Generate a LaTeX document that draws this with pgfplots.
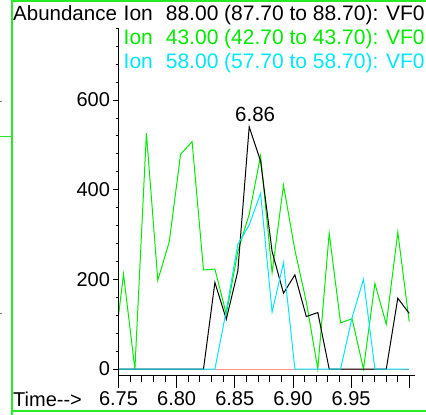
\documentclass[border=0pt]{standalone}
\usepackage{fontspec}
\setmainfont{Liberation Sans}
\usepackage{pgfplots}
\usepackage{pgfplotstable}
\pgfplotsset{compat=1.18}

\definecolor{iongreen}{RGB}{0,235,0}
\definecolor{ioncyan}{RGB}{0,230,255}
\definecolor{ionred}{RGB}{255,85,85}
\definecolor{framegreen}{RGB}{40,235,40}

% ion chromatograms, time in min
\pgfplotstableread{
t      a88  a43  a58  zero
6.7445   0    0    0   0
6.7543   0  212    0   0
6.7641   0    0    0   0
6.7740   0  526    0   0
6.7838   0  198    0   0
6.7936   0  283    0   0
6.8034   0  479    0   0
6.8133   0  507    0   0
6.8231   0  221    0   0
6.8329 193  223    0   0
6.8427 111  122  130   0
6.8526 218  262  278   0
6.8624 540  345  321   0
6.8722 464  475  392   0
6.8821 262  215  127   0
6.8919 169  410  237   0
6.9017 210  265    0   0
6.9115 117  150    0   0
6.9214 126    0    0   0
6.9312   0  303    0   0
6.9410   0  103    0   0
6.9509   0  112  115   0
6.9607   0    0  200   0
6.9705   0  191    0   0
6.9803   0  100    0   0
6.9902 158  305    0   0
7.0000 124  106    0   0
}\iontable

\newcommand{\hdrfont}{\fontsize{20.5}{24}\selectfont}
\newcommand{\ionfont}{\fontsize{21}{24}\selectfont}
\pgfplotsset{
  ionaxis/.style={
    scale only axis, width=296.5pt, height=348pt,
    at={(118.5pt,39pt)}, anchor=south west,
    xmin=6.75, xmax=7.005, ymin=-15.6, ymax=760.6,
    tick align=outside,
    ticklabel style={font=\fontsize{20}{24}\selectfont},
    /pgf/number format/assume math mode=true,
    axis line style={line width=1pt},
    tick style={line width=0.8pt, black},
  }
}

\begin{document}
\begin{tikzpicture}[x=1pt,y=1pt]
\useasboundingbox (0,0) rectangle (426,415);
\begin{scope}
\clip (0,0) rectangle (426,415);

% data and time axis
\begin{axis}[ionaxis,
    axis x line*=bottom, axis y line=none,
    xtick={6.75,6.8,6.85,6.9,6.95,7.0},
    xticklabels={6.75,6.80,6.85,6.90,6.95,{}},
    minor x tick num=4,
    major tick length=12pt, minor tick length=6pt,
    ytick=\empty]
  \addplot[ionred, line width=1pt] table[x=t, y=zero] \iontable;
  \addplot[iongreen, line width=1pt] table[x=t, y=a43] \iontable;
  \addplot[black, line width=1pt] table[x=t, y=a88] \iontable;
  \addplot[ioncyan, line width=1pt] table[x=t, y=a58] \iontable;
  \node[anchor=base, inner sep=0pt, font=\fontsize{20.5}{24}\selectfont]
    at (axis cs:6.8675,552) {6.86};
\end{axis}

% abundance axis
\begin{axis}[ionaxis,
    axis y line*=left, axis x line=none,
    xtick=\empty,
    ytick={0,200,400,600,800},
    minor y tick num=4,
    major tick length=5pt, minor tick length=2.5pt]
\end{axis}

\node[anchor=base west, inner sep=0pt, font=\hdrfont] at (13,394) {Abundance};
\node[anchor=base west, inner sep=0pt, font=\ionfont] at (123.5,394)
  {Ion\hspace{13pt}88.00 (87.70 to 88.70): VF0};
\node[anchor=base west, inner sep=0pt, font=\ionfont, text=iongreen] at (123.5,370)
  {Ion\hspace{13pt}43.00 (42.70 to 43.70): VF0};
\node[anchor=base west, inner sep=0pt, font=\ionfont, text=ioncyan] at (123.5,346)
  {Ion\hspace{13pt}58.00 (57.70 to 58.70): VF0};
\node[anchor=base west, inner sep=0pt, font=\fontsize{20}{24}\selectfont]
  at (13,8.5) {Time-{}->};

% frame
\draw[framegreen, line width=2pt] (426,413.5) -- (11.7,413.5);
\draw[framegreen, line width=2pt] (11.7,415) -- (11.7,0);
\draw[framegreen, line width=2pt] (11.7,3.5) -- (426,3.5);
\draw[framegreen, line width=1.5pt] (0,278.3) -- (11,278.3);
\draw[gray, line width=0.8pt] (0,313.3) -- (1.5,313.3);
\draw[gray, line width=0.8pt] (0,102) -- (1.5,102);
\end{scope}
\end{tikzpicture}
\end{document}
